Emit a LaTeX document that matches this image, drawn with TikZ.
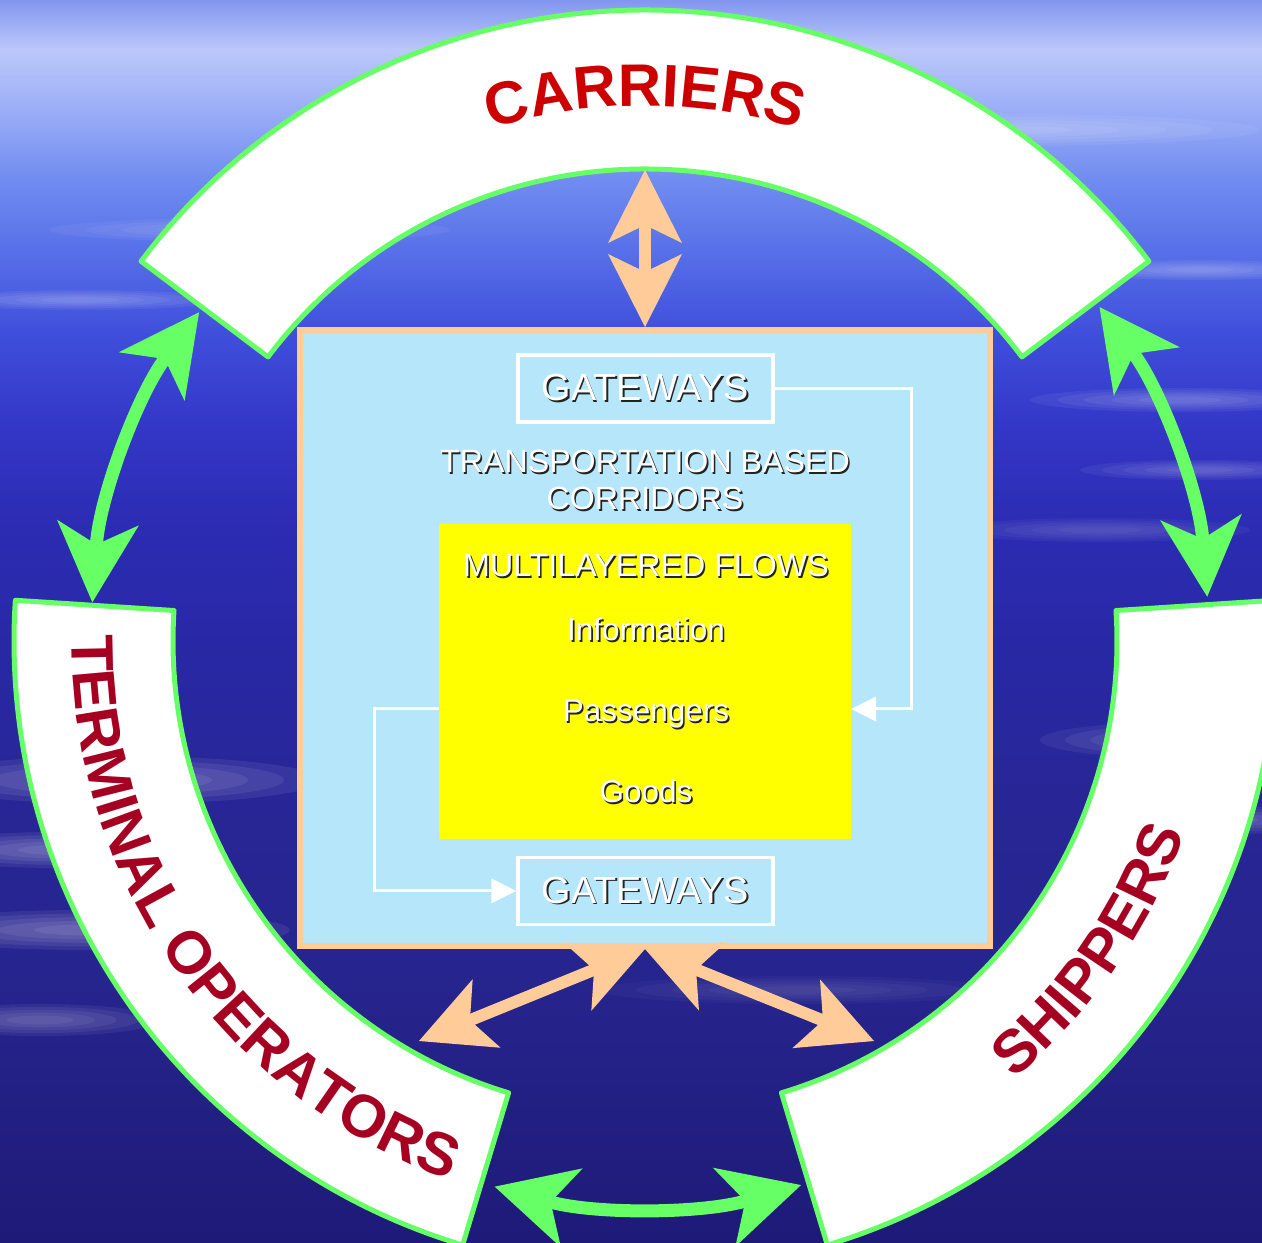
\documentclass[tikz,border=0pt]{standalone}
\usepackage{fontspec}
\setmainfont{Liberation Sans}
\usetikzlibrary{arrows.meta,decorations.text}

\definecolor{arcgreen}{RGB}{102,255,102}
\definecolor{peach}{RGB}{255,204,153}
\definecolor{boxblue}{RGB}{182,230,250}
\definecolor{flowyellow}{RGB}{255,255,0}
\definecolor{carred}{RGB}{204,0,0}
\definecolor{opred}{RGB}{165,0,33}
\definecolor{shadowgray}{RGB}{35,35,35}

\definecolor{bgA}{RGB}{30,26,120}
\definecolor{bgB}{RGB}{38,36,140}
\definecolor{bgC}{RGB}{40,38,150}
\definecolor{bgD}{RGB}{40,40,165}
\definecolor{bgE}{RGB}{44,44,180}
\definecolor{bgF}{RGB}{52,56,200}
\definecolor{bgG}{RGB}{64,80,220}
\definecolor{bgH}{RGB}{88,112,232}
\definecolor{bgI}{RGB}{112,140,240}
\definecolor{bgJ}{RGB}{160,178,248}
\definecolor{bgK}{RGB}{188,200,250}
\definecolor{bgL}{RGB}{130,150,240}

\pgfdeclareverticalshading{bgshade}{100bp}{%
color(0bp)=(bgA);
color(25bp)=(bgA);
color(34.77bp)=(bgB);
color(42.82bp)=(bgC);
color(48.85bp)=(bgD);
color(54.08bp)=(bgE);
color(58.11bp)=(bgF);
color(61.73bp)=(bgG);
color(64.94bp)=(bgH);
color(67.76bp)=(bgI);
color(70.98bp)=(bgJ);
color(72.99bp)=(bgK);
color(75bp)=(bgL);
color(100bp)=(bgL)}

\newcommand\shd[1]{\leavevmode\rlap{\kern1.6pt\raisebox{-1.6pt}{\textcolor{shadowgray}{#1}}}\textcolor{white}{#1}}
\newcommand\carrfont{\fontsize{60}{60}\selectfont\bfseries\color{carred}}
\newcommand\opfont{\fontsize{60}{60}\selectfont\bfseries\color{opred}}
\newcommand\cloudstreak[5]{%
  \foreach \k in {1,0.82,0.64,0.46,0.28}{%
    \fill[white,fill opacity=#5] (#1,#2) ellipse [x radius=#3*\k, y radius=#4*\k];}}

\begin{document}
\begin{tikzpicture}[x=1pt,y=1pt,
  band/.style={fill=white,draw=arcgreen,line width=5pt,line join=round},
  peacharrow/.style={draw=peach,line width=12pt,>={Stealth[length=73pt,width=74pt,inset=18pt,line width'=0pt]},<->},
  greenarrow/.style={draw=arcgreen,line width=13pt,>={Stealth[length=80pt,width=82pt,inset=22pt,line width'=0pt]},<->},
  wline/.style={draw=white,line width=3pt,>={Triangle[length=25pt,width=25pt,line width'=0pt]},->},
  gwbox/.style={draw=white,line width=3.5pt,minimum width=255pt,minimum height=67pt,inner sep=0pt,font=\fontsize{37.8}{40}\selectfont},
  wtext/.style={inner sep=0pt,font=\fontsize{32.2}{37}\selectfont},
  itemtext/.style={inner sep=0pt,font=\fontsize{31.5}{36}\selectfont}
]
\useasboundingbox (0,0) rectangle (1262,1243);
\shade[shading=bgshade] (0,0) rectangle (1262,1243);

% cloud streaks
\cloudstreak{1000}{1113}{260}{16}{0.06}
\cloudstreak{250}{1013}{200}{12}{0.05}
\cloudstreak{80}{943}{140}{10}{0.06}
\cloudstreak{1200}{973}{120}{10}{0.06}
\cloudstreak{1180}{843}{150}{12}{0.06}
\cloudstreak{1200}{773}{120}{10}{0.05}
\cloudstreak{1100}{713}{150}{12}{0.04}
\cloudstreak{120}{463}{200}{24}{0.07}
\cloudstreak{60}{393}{150}{18}{0.07}
\cloudstreak{90}{313}{200}{20}{0.07}
\cloudstreak{40}{223}{120}{16}{0.06}
\cloudstreak{1180}{503}{140}{18}{0.06}
\cloudstreak{1230}{423}{100}{14}{0.06}
\cloudstreak{800}{253}{200}{14}{0.03}

\coordinate (C) at (645,602);

% the three bands
\filldraw[band] ([shift={(C)}]37:631) arc[start angle=37,end angle=143,radius=631]
  -- ([shift={(C)}]143:472) arc[start angle=143,end angle=37,radius=472] -- cycle;
\filldraw[band] ([shift={(C)}]176.3:631) arc[start angle=176.3,end angle=253.2,radius=631]
  -- ([shift={(C)}]253.2:472) arc[start angle=253.2,end angle=176.3,radius=472] -- cycle;
\filldraw[band] ([shift={(C)}]-73.2:631) arc[start angle=-73.2,end angle=3.7,radius=631]
  -- ([shift={(C)}]3.7:472) arc[start angle=3.7,end angle=-73.2,radius=472] -- cycle;

% band labels
\path[decorate,decoration={text along path,text align=center,text={|\carrfont|CARRIERS}}]
  ([shift={(C)}]165:535) arc[start angle=165,end angle=15,radius=535];
\path[decorate,decoration={text along path,text align=center,text={|\opfont|TERMINAL OPERATORS}}]
  ([shift={(C)}]176.3:573) arc[start angle=176.3,end angle=253.2,radius=573];
\path[decorate,decoration={text along path,text align=center,text={|\opfont|SHIPPERS}}]
  ([shift={(C)}]-73.2:573) arc[start angle=-73.2,end angle=3.7,radius=573];

% central box
\node[draw=peach,fill=boxblue,line width=6pt,minimum width=690pt,minimum height=616pt,inner sep=0pt] (corr) at (645,605) {};
\node[fill=flowyellow,minimum width=412pt,minimum height=315pt,inner sep=0pt] (flows) at (645,561.5) {};
\node[gwbox] (gw1) at (645.5,854.5) {\shd{GATEWAYS}};
\node[gwbox] (gw2) at (645.5,352) {\shd{GATEWAYS}};

\node[wtext,anchor=base] (tbc1) at (645,770) {\shd{TRANSPORTATION BASED}};
\node[wtext,anchor=base] (tbc2) at (645,733) {\shd{CORRIDORS}};
\node[wtext,anchor=base] (mlf) at (646,666) {\shd{MULTILAYERED FLOWS}};
\node[itemtext,anchor=base] (info) at (646,602) {\shd{Information}};
\node[itemtext,anchor=base] (pass) at (646,521) {\shd{Passengers}};
\node[itemtext,anchor=base] (goods) at (646,440) {\shd{Goods}};

% white connectors
\draw[wline] (gw1.east) -- ++(137,0) |- ([yshift=-27.5pt]flows.east);
\draw[wline] ([yshift=-27.5pt]flows.west) -- ++(-64,0) |- (gw2.west);

% peach arrows
\coordinate (ctop) at ([shift={(C)}]90:471);
\coordinate (tl) at (419,202);
\coordinate (tr) at (874,202);
\draw[peacharrow] (ctop) -- (corr.north);
\draw[peacharrow] (corr.south) -- (tl);
\draw[peacharrow] (corr.south) -- (tr);

% green arrows
\coordinate (gl) at ([shift={(C)}]143.6:554);
\coordinate (gr) at ([shift={(C)}]36.3:564);
\coordinate (gb) at ([shift={(C)}]254.6:566);
\draw[greenarrow] (gl) arc[start angle=143.6,end angle=176,radius=554];
\draw[greenarrow] (gr) arc[start angle=36.3,end angle=4.5,radius=564];
\draw[greenarrow] (gb) arc[start angle=254.6,end angle=286,radius=566];
\end{tikzpicture}
\end{document}
